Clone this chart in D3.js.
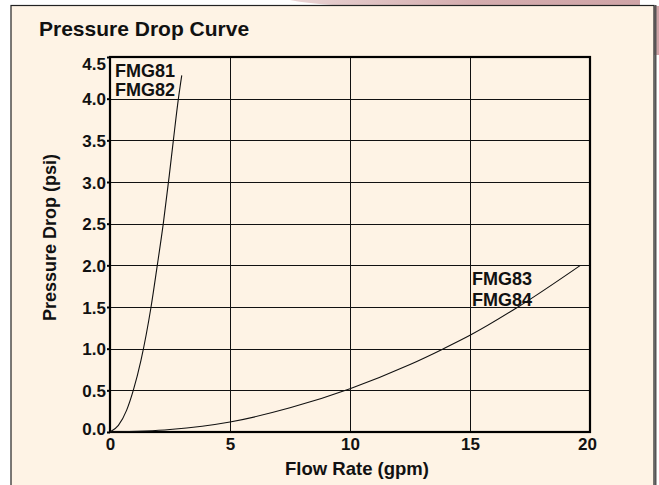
<!DOCTYPE html>
<html lang="en">
<head>
  <meta charset="utf-8">
  <title>Pressure Drop Curve</title>
  <script type="text/javascript" src="https://cdn.jsdelivr.net/npm/d3@7"></script>
  <style>
    body { margin: 0; background: #fff; }
    svg text { font-family: "Liberation Sans", Arial, Helvetica, sans-serif; font-weight: bold; fill: #111; }
    .grid line { stroke: #111; stroke-width: 1; shape-rendering: crispEdges; }
    .curve { fill: none; stroke: #111; stroke-width: 1.1; }
  </style>
</head>
<body>
  <script type="text/javascript">

    var w = 659;
    var h = 485;

    // tick labels
    var xTicks = [0, 5, 10, 15, 20];
    var yTicks = [0, 0.5, 1.0, 1.5, 2.0, 2.5, 3.0, 3.5, 4.0, 4.5];

    // FMG81 / FMG82 curve (flow gpm, drop psi)
    var smallFlow = [0, 0.35, 0.69, 0.97, 1.29, 1.71, 1.97, 2.22, 2.47, 2.64, 2.85, 2.99];
    var smallDrop = [0, 0.08, 0.26, 0.5, 0.86, 1.5, 2.0, 2.5, 3.08, 3.5, 4.0, 4.28];

    // FMG83 / FMG84 curve
    var largeFlow = [0, 2.5, 5, 7.5, 10, 12.5, 13.9, 15, 17, 19.6];
    var largeDrop = [0, 0.03, 0.12, 0.29, 0.52, 0.81, 1.0, 1.16, 1.5, 2.0];

    var svg = d3.select("body")
      .append("svg")
      .attr("width", w)
      .attr("height", h);

    // pink swoosh at top right
    var defs = svg.append("defs");
    var grad = defs.append("linearGradient")
      .attr("id", "pink")
      .attr("x1", "0").attr("y1", "0").attr("x2", "1").attr("y2", "0");
    grad.append("stop").attr("offset", "0").attr("stop-color", "#e9d3d3");
    grad.append("stop").attr("offset", "0.5").attr("stop-color", "#d4acae");
    grad.append("stop").attr("offset", "1").attr("stop-color", "#cfa3a6");

    svg.append("path")
      .attr("d", "M290,0 Q330,8 420,7 L659,6 L659,55 L640,55 L640,0 Z")
      .attr("fill", "url(#pink)");

    // cream panel
    svg.append("rect")
      .attr("x", 11)
      .attr("y", 5.5)
      .attr("width", 643)
      .attr("height", 490)
      .attr("fill", "#fef3e5")
      .attr("stroke", "#222")
      .attr("stroke-width", 1.2);
    svg.append("line")
      .attr("x1", 655.5).attr("x2", 655.5)
      .attr("y1", 5).attr("y2", h)
      .attr("stroke", "#555")
      .attr("stroke-width", 2);

    var xScale = d3.scaleLinear().domain([0, 20]).range([110, 590]);
    var yScale = d3.scaleLinear().domain([0, 4.5]).range([432, 57]);

    // grid
    var grid = svg.append("g").attr("class", "grid");
    grid.selectAll(".gx")
      .data(xTicks.slice(1, -1))
      .enter()
      .append("line")
      .attr("x1", function (d) { return Math.round(xScale(d)) + 0.5; })
      .attr("x2", function (d) { return Math.round(xScale(d)) + 0.5; })
      .attr("y1", yScale(4.5))
      .attr("y2", yScale(0));
    grid.selectAll(".gy")
      .data(yTicks.slice(1, -1))
      .enter()
      .append("line")
      .attr("x1", xScale(0) - 3)
      .attr("x2", xScale(20))
      .attr("y1", function (d) { return Math.round(yScale(d)) + 0.5; })
      .attr("y2", function (d) { return Math.round(yScale(d)) + 0.5; });

    // frame
    svg.append("rect")
      .attr("x", xScale(0))
      .attr("y", yScale(4.5))
      .attr("width", xScale(20) - xScale(0))
      .attr("height", yScale(0) - yScale(4.5))
      .attr("fill", "none")
      .attr("stroke", "#000")
      .attr("stroke-width", 2.2);

    // axes labels
    var yAxis = d3.axisLeft(yScale)
      .tickValues(yTicks)
      .tickSize(3)
      .tickPadding(1)
      .tickFormat(d3.format(".1f"));
    var gy = svg.append("g")
      .attr("transform", "translate(" + xScale(0) + ",0)")
      .call(yAxis);
    gy.select(".domain").remove();
    gy.selectAll("line").attr("stroke", "#000").attr("stroke-width", 2);
    gy.selectAll("text")
      .attr("font-size", "17px")
      .attr("dy", function (d) {
        // top label sits a bit low, bottom one a bit high
        if (d === 4.5) return "0.72em";
        if (d === 0) return "0.12em";
        return "0.36em";
      });

    var xAxis = d3.axisBottom(xScale)
      .tickValues(xTicks)
      .tickSize(0)
      .tickPadding(6)
      .tickFormat(d3.format("d"));
    var gx = svg.append("g")
      .attr("transform", "translate(0," + yScale(0) + ")")
      .call(xAxis);
    gx.select(".domain").remove();
    gx.selectAll("text")
      .attr("font-size", "17px")
      .attr("dx", function (d) { return d === 20 ? -3 : 0; });

    // curves
    var line = d3.line()
      .x(function (d) { return xScale(d[0]); })
      .y(function (d) { return yScale(d[1]); })
      .curve(d3.curveMonotoneX);

    svg.append("path")
      .datum(smallFlow.map(function (f, i) { return [f, smallDrop[i]]; }))
      .attr("class", "curve")
      .attr("d", line);

    svg.append("path")
      .datum(largeFlow.map(function (f, i) { return [f, largeDrop[i]]; }))
      .attr("class", "curve")
      .attr("d", line);

    // curve labels
    svg.append("text").attr("x", 115).attr("y", 77).attr("font-size", "18px").text("FMG81");
    svg.append("text").attr("x", 115).attr("y", 96).attr("font-size", "18px").text("FMG82");
    svg.append("text").attr("x", 472).attr("y", 285).attr("font-size", "18px").text("FMG83");
    svg.append("text").attr("x", 472).attr("y", 306).attr("font-size", "18px").text("FMG84");

    // titles
    svg.append("text")
      .attr("x", 39)
      .attr("y", 36)
      .attr("font-size", "21px")
      .text("Pressure Drop Curve");

    svg.append("text")
      .attr("x", 357)
      .attr("y", 475)
      .attr("text-anchor", "middle")
      .attr("font-size", "18.5px")
      .text("Flow Rate (gpm)");

    svg.append("text")
      .attr("transform", "translate(55.5,237.5) rotate(-90)")
      .attr("text-anchor", "middle")
      .attr("font-size", "18px")
      .text("Pressure Drop (psi)");

  </script>
</body>
</html>
